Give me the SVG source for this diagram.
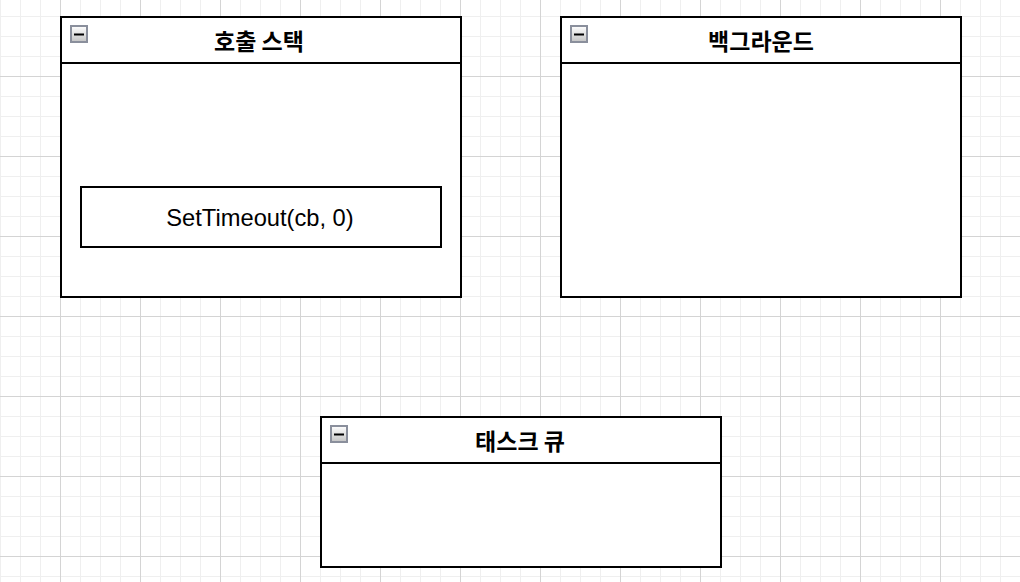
<svg xmlns="http://www.w3.org/2000/svg" width="1020" height="582" viewBox="0 0 1020 582">
<defs>
<pattern id="minor" x="0" y="16" width="20" height="20" patternUnits="userSpaceOnUse">
<path d="M0.5 0V20M0 0.5H20" fill="none" stroke="#efefef" stroke-width="1"/>
</pattern>
<pattern id="major" x="60" y="76" width="80" height="80" patternUnits="userSpaceOnUse">
<path d="M0.5 0V80M0 0.5H80" fill="none" stroke="#d4d4d4" stroke-width="1"/>
</pattern>
<linearGradient id="btn" x1="0" y1="0" x2="0" y2="1">
<stop offset="0" stop-color="#ffffff"/>
<stop offset="1" stop-color="#c4c4c4"/>
</linearGradient>
<g id="icon">
<rect x="0" y="0" width="16" height="16" fill="url(#btn)" stroke="#8a8f9c" stroke-width="2"/>
<rect x="3" y="7.5" width="10" height="2" fill="#000"/>
</g>
</defs>
<style>
.box{fill:#fff;stroke:#000;stroke-width:2}
.hdr{stroke:#000;stroke-width:2}
.title{font-family:"Noto Sans CJK KR","Noto Sans",sans-serif;font-weight:bold;font-size:23px;text-anchor:middle;fill:#000}
.lbl{font-family:"Liberation Sans",Arial,sans-serif;font-size:23.7px;text-anchor:middle;fill:#000}
</style>
<rect width="1020" height="582" fill="#fff"/>
<rect width="1020" height="582" fill="url(#minor)"/>
<rect width="1020" height="582" fill="url(#major)"/>
<g id="callstack">
<rect class="box" x="61" y="17" width="400" height="280"/>
<line class="hdr" x1="61" y1="63" x2="461" y2="63"/>
<use href="#icon" x="71" y="26"/>
<text class="title" x="259" y="49.5">호출 스택</text>
</g>
<g id="settimeout">
<rect class="box" x="81" y="187" width="360" height="60"/>
<text class="lbl" x="260" y="225.5">SetTimeout(cb, 0)</text>
</g>
<g id="background">
<rect class="box" x="561" y="17" width="400" height="280"/>
<line class="hdr" x1="561" y1="63" x2="961" y2="63"/>
<use href="#icon" x="571" y="26"/>
<text class="title" x="761" y="49.5">백그라운드</text>
</g>
<g id="taskqueue">
<rect class="box" x="321" y="417" width="400" height="150"/>
<line class="hdr" x1="321" y1="463" x2="721" y2="463"/>
<use href="#icon" x="331" y="426"/>
<text class="title" x="520" y="449.5">태스크 큐</text>
</g>
<g id="connectors"/>
</svg>
